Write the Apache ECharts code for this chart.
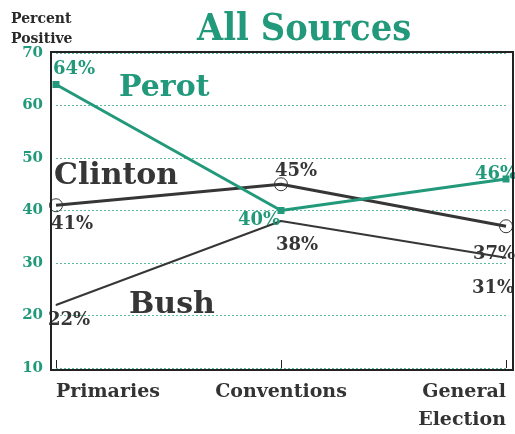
<!DOCTYPE html>
<html>
<head>
<meta charset="utf-8">
<script src="https://cdn.jsdelivr.net/npm/echarts@6/dist/echarts.min.js"></script>
<style>
  html, body { margin: 0; padding: 0; background: #fff; }
  #main { width: 515px; height: 434px; }
</style>
</head>
<body>
<div id="main"></div>
<script>
// data
const categories = ['Primaries', 'Conventions', 'General\nElection'];
const perot = [64, 40, 46];
const clinton = [41, 45, 37];
const bush = [22, 38, 31];
const yTicks = [10, 20, 30, 40, 50, 60, 70];

const green = '#22997a';
const dark = '#363636';
const serif = '"DejaVu Serif", "Liberation Serif", serif';

const chart = echarts.init(document.getElementById('main'));

const pctLabel = (color, pos) => ({
  show: true,
  color: color,
  fontFamily: serif,
  fontWeight: 'bold',
  fontSize: 18,
  position: pos,
  formatter: p => p.value + '%'
});

// label nudges per point, [dx, dy]
const perotOff = [[18, 2], [-22, 27], [-10, 13]];
const clintonOff = [[16, -2], [15, -34], [-12, 7]];
const bushOff = [[13, 1], [16, 10], [-13, 16]];
const nudge = offs => p => ({ dx: offs[p.dataIndex][0], dy: offs[p.dataIndex][1] });

chart.setOption({
  backgroundColor: '#fff',
  animation: false,
  grid: { left: 56, right: 9, top: 53, bottom: 64 },
  xAxis: {
    type: 'category',
    data: categories,
    boundaryGap: false,
    axisLine: { show: false },
    axisTick: { show: true, inside: true, length: 8, lineStyle: { color: '#222', width: 1 } },
    axisLabel: {
      color: '#333', fontFamily: serif, fontWeight: 'bold', fontSize: 19,
      margin: 10, lineHeight: 28,
      alignMinLabel: 'left', alignMaxLabel: 'right'
    },
    splitLine: { show: false }
  },
  yAxis: {
    type: 'value',
    min: 10, max: 70, interval: 10,
    axisLine: { show: false },
    axisTick: { show: false },
    axisLabel: {
      color: green, fontFamily: serif, fontWeight: 'bold', fontSize: 15, margin: 13,
      formatter: v => yTicks.includes(v) ? String(v) : ''
    },
    splitLine: { show: true, lineStyle: { color: '#5fb9a0', type: [2, 2], width: 1 } }
  },
  graphic: [
    { type: 'rect', shape: { x: 51, y: 52, width: 462, height: 318 }, style: { fill: 'none', stroke: '#222', lineWidth: 2 }, z: 10 },
    { type: 'text', left: 11, top: 9, style: { text: 'Percent\nPositive', fill: '#2a2a2a', font: 'bold 14px ' + serif, lineHeight: 20 } },
    { type: 'text', x: 197, y: 11, scaleX: 0.89, style: { text: 'All Sources', fill: green, font: 'bold 38px ' + serif } },
    { type: 'text', left: 119, top: 73, style: { text: 'Perot', fill: green, font: 'bold 30px ' + serif } },
    { type: 'text', left: 54, top: 161, style: { text: 'Clinton', fill: dark, font: 'bold 30px ' + serif } },
    { type: 'text', left: 129, top: 290, style: { text: 'Bush', fill: dark, font: 'bold 30px ' + serif } }
  ],
  series: [
    {
      name: 'Bush', type: 'line', data: bush,
      lineStyle: { color: dark, width: 2 },
      symbol: 'circle', symbolSize: 1,
      itemStyle: { color: dark },
      label: pctLabel(dark, 'bottom'),
      labelLayout: nudge(bushOff),
      z: 3
    },
    {
      name: 'Clinton', type: 'line', data: clinton,
      lineStyle: { color: dark, width: 3 },
      symbol: 'circle', symbolSize: 13,
      itemStyle: { color: 'rgba(255,255,255,0)', borderColor: dark, borderWidth: 1 },
      label: pctLabel(dark, 'bottom'),
      labelLayout: nudge(clintonOff),
      z: 4
    },
    {
      name: 'Perot', type: 'line', data: perot,
      lineStyle: { color: green, width: 3 },
      symbol: 'rect', symbolSize: 7,
      itemStyle: { color: green },
      label: pctLabel(green, 'top'),
      labelLayout: nudge(perotOff),
      z: 5
    }
  ]
});
</script>
</body>
</html>
